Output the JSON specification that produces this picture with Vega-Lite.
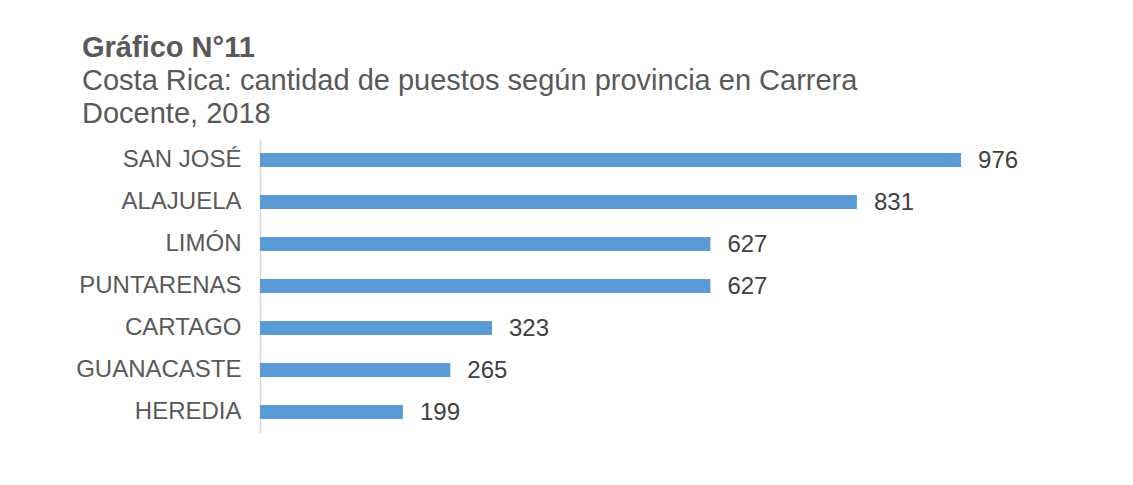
{
  "$schema": "https://vega.github.io/schema/vega-lite/v6.json",
  "autosize": {"type": "none"},
  "width": 862,
  "height": 294,
  "padding": {"left": 260, "top": 139, "right": 11, "bottom": 52},
  "background": "white",
  "config": {"view": {"stroke": null}, "font": "Liberation Sans"},
  "title": {
    "text": "Gráfico N°11",
    "subtitle": ["Costa Rica: cantidad de puestos según provincia en Carrera", "Docente, 2018"],
    "anchor": "start",
    "frame": "group",
    "dx": -178,
    "offset": 10,
    "font": "Liberation Sans",
    "fontSize": 29,
    "fontWeight": "bold",
    "color": "#595959",
    "subtitleFont": "Liberation Sans",
    "subtitleFontSize": 29,
    "subtitleColor": "#595959",
    "subtitleLineHeight": 33,
    "subtitlePadding": 4
  },
  "data": {
    "values": [
      {"provincia": "SAN JOSÉ", "puestos": 976},
      {"provincia": "ALAJUELA", "puestos": 831},
      {"provincia": "LIMÓN", "puestos": 627},
      {"provincia": "PUNTARENAS", "puestos": 627},
      {"provincia": "CARTAGO", "puestos": 323},
      {"provincia": "GUANACASTE", "puestos": 265},
      {"provincia": "HEREDIA", "puestos": 199}
    ]
  },
  "encoding": {
    "y": {
      "field": "provincia",
      "type": "nominal",
      "sort": null,
      "scale": {"paddingInner": 0.667, "paddingOuter": 0.333},
      "axis": {
        "title": null,
        "ticks": false,
        "domainColor": "#d9d9d9",
        "domainWidth": 1.5,
        "labelFont": "Liberation Sans",
        "labelFontSize": 24,
        "labelColor": "#595959",
        "labelPadding": 19
      }
    },
    "x": {
      "field": "puestos",
      "type": "quantitative",
      "scale": {"domain": [0, 1200]},
      "axis": null
    }
  },
  "layer": [
    {"mark": {"type": "bar", "color": "#5B9BD5"}},
    {
      "mark": {"type": "text", "align": "left", "baseline": "middle", "dx": 17, "dy": 1, "fontSize": 24, "color": "#404040", "font": "Liberation Sans"},
      "encoding": {"text": {"field": "puestos", "type": "quantitative"}}
    }
  ]
}
